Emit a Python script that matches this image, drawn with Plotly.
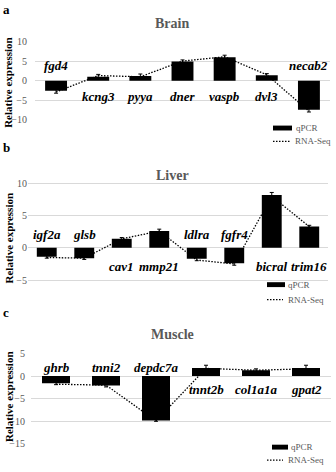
import plotly.graph_objects as go

# ---------------- data ----------------
brain_genes = ["fgd4", "kcng3", "pyya", "dner", "vaspb", "dvl3", "necab2"]
brain_qpcr = [-2.6, 1.0, 1.2, 4.9, 6.0, 1.4, -7.4]
brain_err = [0.6, 0.6, 0.5, 0.4, 0.5, 0.4, 0.6]
brain_rnaseq = [-2.9, 1.3, 1.0, 5.0, 6.1, 1.5, -7.8]

liver_genes = ["igf2a", "glsb", "cav1", "mmp21", "ldlra", "fgfr4", "bicral", "trim16"]
liver_qpcr = [-1.4, -1.6, 1.4, 2.6, -1.7, -2.4, 8.2, 3.3]
liver_err = [0.2, 0.2, 0.2, 0.3, 0.3, 0.3, 0.4, 0.2]
liver_rnaseq = [-1.5, -1.6, 1.4, 2.6, -1.9, -2.5, 8.0, 3.3]

muscle_genes = ["ghrb", "tnni2", "depdc7a", "tnnt2b", "col1a1a", "gpat2"]
muscle_qpcr = [-1.6, -2.1, -9.8, 1.8, 1.3, 1.8]
muscle_err = [0.3, 0.3, 0.2, 0.6, 0.3, 0.6]
muscle_rnaseq = [-1.8, -2.0, -9.9, 1.7, 1.3, 1.6]

brain_above = ["fgd4", "necab2"]
liver_above = ["igf2a", "glsb", "ldlra", "fgfr4"]
muscle_above = ["ghrb", "tnni2", "depdc7a"]

# ---------------- layout helpers ----------------
W, H = 336, 472
SERIF = "Liberation Serif"
GRAY = "#595959"
DOT = "1.5px,1.5px"


def fx(px):
    return px / W


def fy(px):
    return 1 - px / H


panels = [
    dict(genes=brain_genes, q=brain_qpcr, e=brain_err, r=brain_rnaseq, above=brain_above,
         title="Brain", letter="a", xd=(35, 330), yd=(36.5, 118.1), rng=(-10.2, 10.2),
         up=3.8, down=-4.1, bw=0.52, title_y=19, letter_y=5, ytitle_y=79, stand=7,
         leg_box=(273, 292, 125.7), leg_line=(273, 290, 139.3), leg_tx=294),
    dict(genes=liver_genes, q=liver_qpcr, e=liver_err, r=liver_rnaseq, above=liver_above,
         title="Liver", letter="b", xd=(28, 328), yd=(181.0, 282.3), rng=(-5.2, 10.2),
         up=2.1, down=-2.9, bw=0.53, title_y=174, letter_y=146, ytitle_y=238, stand=0,
         leg_box=(267, 285, 285.7), leg_line=(267, 283, 301), leg_tx=286),
    dict(genes=muscle_genes, q=muscle_qpcr, e=muscle_err, r=muscle_rnaseq, above=muscle_above,
         title="Muscle", letter="c", xd=(31, 331), yd=(355.1, 449.3), rng=(-15.2, 5.2),
         up=2.0, down=-2.9, bw=0.56, title_y=337, letter_y=314, ytitle_y=400, stand=5,
         leg_box=(272, 288, 451.7), leg_line=(267, 283, 465), leg_tx=289),
]

fig = go.Figure()
annotations = []
shapes = []
layout = {}

for i, p in enumerate(panels):
    n = i + 1
    xa = "x" if n == 1 else f"x{n}"
    ya = "y" if n == 1 else f"y{n}"
    ya_over = f"y{n + 3}"
    xkey = "xaxis" if n == 1 else f"xaxis{n}"
    ykey = "yaxis" if n == 1 else f"yaxis{n}"
    ykey_over = f"yaxis{n + 3}"

    # RNA-Seq dotted line (drawn underneath the bars)
    fig.add_trace(go.Scatter(
        x=p["genes"], y=p["r"], mode="lines", xaxis=xa, yaxis=ya,
        line=dict(color="black", width=1.3, dash=DOT), showlegend=False,
        hoverinfo="skip"))
    # qPCR bars on an overlaying axis so they sit above the line
    fig.add_trace(go.Bar(
        x=p["genes"], y=p["q"], xaxis=xa, yaxis=ya_over, width=p["bw"],
        marker=dict(color="black", line=dict(width=0)),
        error_y=dict(type="data", array=p["e"], color="black", thickness=1, width=2),
        showlegend=False))

    layout[xkey] = dict(domain=[fx(p["xd"][0]), fx(p["xd"][1])], anchor=ya,
                        type="category", showticklabels=False, showgrid=False,
                        zeroline=False, showline=False, ticks="",
                        range=[-0.5, len(p["genes"]) - 0.5])
    common_y = dict(domain=[fy(p["yd"][1]), fy(p["yd"][0])], range=list(p["rng"]),
                    dtick=5, tick0=0)
    layout[ykey] = dict(**common_y, anchor=xa, showgrid=True, gridcolor="#d9d9d9",
                        gridwidth=1, zeroline=True, zerolinecolor="#d9d9d9",
                        zerolinewidth=1, showline=False, ticks="", ticklen=0,
                        tickfont=dict(family=SERIF, size=10, color=GRAY),
                        ticklabelstandoff=p["stand"])
    layout[ykey_over] = dict(**common_y, overlaying=ya, anchor=xa, showgrid=False,
                             zeroline=False, showticklabels=False, showline=False,
                             ticks="")

    # gene labels
    for g in p["genes"]:
        annotations.append(dict(
            x=g, y=p["up"] if g in p["above"] else p["down"], xref=xa, yref=ya,
            text=f"<b><i>{g}</i></b>", showarrow=False,
            font=dict(family=SERIF, size=13, color="black"),
            xanchor="center", yanchor="middle"))

    # panel title
    annotations.append(dict(
        x=fx(172), y=fy(p["title_y"]), xref="paper", yref="paper",
        text=f"<b>{p['title']}</b>", showarrow=False,
        font=dict(family=SERIF, size=14, color=GRAY),
        xanchor="center", yanchor="middle"))
    # panel letter
    annotations.append(dict(
        x=fx(0.5), y=fy(p["letter_y"]), xref="paper", yref="paper",
        text=f"<b>{p['letter']}</b>", showarrow=False,
        font=dict(family=SERIF, size=13, color="black"),
        xanchor="left", yanchor="middle"))
    # y-axis title
    annotations.append(dict(
        x=fx(0.5), y=fy(p["ytitle_y"]), xref="paper", yref="paper",
        text="<b>Relative expression</b>", showarrow=False, textangle=-90,
        font=dict(family=SERIF, size=11, color="black"),
        xanchor="left", yanchor="middle"))

    # legend
    bx0, bx1, by = p["leg_box"]
    shapes.append(dict(type="rect", xref="paper", yref="paper",
                       x0=fx(bx0), x1=fx(bx1), y0=fy(by + 2.5), y1=fy(by - 2.5),
                       fillcolor="black", line=dict(width=0)))
    lx0, lx1, ly = p["leg_line"]
    shapes.append(dict(type="line", xref="paper", yref="paper",
                       x0=fx(lx0), x1=fx(lx1), y0=fy(ly), y1=fy(ly),
                       line=dict(color="black", width=1.2, dash=DOT)))
    annotations.append(dict(
        x=fx(p["leg_tx"]), y=fy(by), xref="paper", yref="paper",
        text="qPCR", showarrow=False, font=dict(family=SERIF, size=9, color=GRAY),
        xanchor="left", yanchor="middle"))
    annotations.append(dict(
        x=fx(lx1 + 3), y=fy(ly), xref="paper", yref="paper",
        text="RNA-Seq", showarrow=False, font=dict(family=SERIF, size=9, color=GRAY),
        xanchor="left", yanchor="middle"))

fig.update_layout(
    width=W, height=H, margin=dict(l=0, r=0, t=0, b=0),
    paper_bgcolor="white", plot_bgcolor="white",
    font=dict(family=SERIF),
    showlegend=False, annotations=annotations, shapes=shapes,
    **layout)

fig.write_html("out.html")
